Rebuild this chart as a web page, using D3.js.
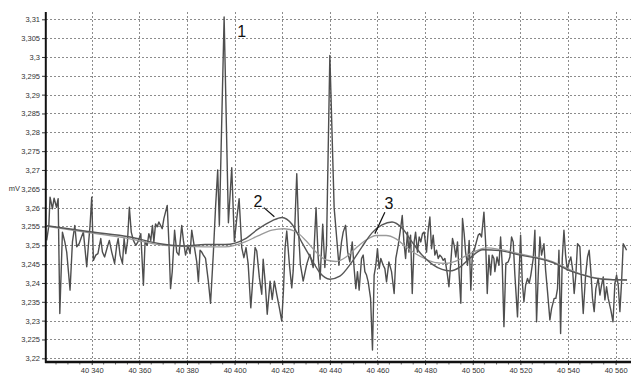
<!DOCTYPE html>
<html>
<head>
<meta charset="utf-8">
<script src="https://cdn.jsdelivr.net/npm/d3@7"></script>
<style>
  html, body { margin: 0; padding: 0; background: #fff; }
  svg { display: block; }
</style>
</head>
<body>
<svg id="chart" width="631" height="374"></svg>
<script>
// Raw signal: sample time and voltage (mV)
const sampleTime = [
  40321.1,40322.0,40322.5,40323.5,40324.2,40325.2,40325.9,40326.6,40327.7,40328.7,
  40329.5,40330.9,40331.9,40332.9,40333.7,40334.7,40335.7,40336.5,40337.1,40337.9,
  40338.6,40339.3,40340.0,40340.7,40341.7,40342.6,40343.8,40344.5,40345.4,40346.6,
  40347.4,40348.4,40349.6,40350.5,40351.1,40351.9,40352.9,40353.6,40354.3,40355.0,
  40355.8,40356.6,40357.5,40358.5,40359.4,40360.6,40361.7,40362.4,40363.3,40364.0,
  40364.8,40365.5,40366.1,40366.8,40367.5,40368.2,40368.9,40369.6,40370.3,40371.7,
  40372.4,40373.1,40373.8,40374.8,40375.7,40376.6,40377.8,40378.5,40379.4,40380.4,
  40381.3,40382.0,40383.1,40384.1,40384.8,40385.5,40386.2,40386.9,40387.8,40389.0,
  40389.9,40391.1,40392.0,40392.9,40393.6,40395.6,40397.4,40398.8,40399.9,40400.9,
  40401.9,40403.0,40403.9,40404.8,40405.7,40406.8,40407.8,40408.6,40409.3,40410.4,
  40411.4,40412.0,40412.8,40413.7,40414.9,40415.8,40416.7,40417.7,40418.8,40419.8,
  40420.5,40421.2,40421.9,40423.0,40424.0,40424.6,40426.1,40427.0,40427.6,40428.8,
  40430.3,40431.6,40433.0,40434.2,40435.1,40435.9,40437.0,40437.9,40438.6,40440.0,
  40441.8,40442.6,40443.8,40444.9,40445.6,40446.6,40447.5,40448.4,40449.4,40450.2,
  40450.9,40451.6,40452.3,40453.3,40454.0,40454.7,40455.4,40456.1,40457.1,40457.9,
  40458.6,40459.3,40460.0,40460.7,40461.4,40462.4,40463.1,40463.8,40464.8,40465.9,
  40467.0,40467.7,40468.7,40469.8,40470.4,40471.1,40471.8,40472.6,40473.2,40473.9,
  40474.6,40475.4,40476.0,40476.8,40477.5,40478.2,40478.9,40479.6,40480.6,40481.3,
  40482.0,40482.7,40483.4,40484.1,40484.8,40485.5,40486.2,40486.9,40487.6,40488.3,
  40489.3,40490.0,40490.8,40491.5,40492.2,40492.9,40493.6,40494.3,40495.0,40495.7,
  40496.4,40497.0,40497.8,40498.5,40499.2,40499.9,40500.6,40502.3,40503.0,40503.7,
  40504.7,40505.4,40506.1,40506.8,40507.5,40508.2,40508.9,40509.3,40510.2,40511.0,
  40511.7,40512.4,40513.1,40513.9,40514.9,40515.6,40516.3,40517.0,40517.7,40518.8,
  40519.5,40520.1,40520.8,40521.5,40522.2,40523.0,40523.7,40524.4,40525.4,40526.1,
  40526.8,40527.5,40528.2,40528.9,40529.9,40530.6,40531.4,40532.4,40533.1,40534.2,
  40534.9,40535.6,40536.2,40536.9,40537.6,40538.3,40539.0,40539.7,40540.5,40541.2,
  40541.9,40542.6,40543.3,40544.0,40545.0,40545.7,40546.4,40547.4,40548.2,40548.9,
  40549.6,40550.3,40551.0,40551.7,40552.7,40553.4,40554.1,40554.8,40555.5,40556.2,
  40556.9,40558.0,40558.9,40559.7,40560.4,40561.1,40561.8,40562.5,40563.2,40563.9,
  40564.6
];
const sampleMv = [
  3.2513,3.2553,3.2628,3.2597,3.2625,3.2601,3.2624,3.2319,3.2535,3.2509,
  3.2482,3.2381,3.2509,3.2553,3.2496,3.2504,3.2522,3.2535,3.2496,3.2443,
  3.2500,3.2553,3.2628,3.2460,3.2474,3.2478,3.2518,3.2482,3.2469,3.2496,
  3.2513,3.2482,3.2452,3.2500,3.2518,3.2474,3.2452,3.2518,3.2478,3.2509,
  3.2601,3.2535,3.2513,3.2500,3.2509,3.2531,3.2394,3.2509,3.2500,3.2531,
  3.2513,3.2553,3.2509,3.2557,3.2549,3.2562,3.2553,3.2544,3.2571,3.2606,
  3.2509,3.2385,3.2429,3.2540,3.2482,3.2474,3.2553,3.2513,3.2474,3.2500,
  3.2478,3.2540,3.2496,3.2456,3.2403,3.2487,3.2482,3.2474,3.2465,3.2403,
  3.2346,3.2482,3.2601,3.2700,3.2553,3.3106,3.2560,3.2706,3.2510,3.2570,
  3.2624,3.2494,3.2467,3.2494,3.2450,3.2334,3.2423,3.2494,3.2485,3.2414,
  3.2370,3.2463,3.2405,3.2317,3.2405,3.2356,3.2405,3.2370,3.2334,3.2299,
  3.2379,3.2494,3.2538,3.2450,3.2387,3.2432,3.2690,3.2520,3.2450,3.2405,
  3.2450,3.2476,3.2441,3.2600,3.2467,3.2410,3.2556,3.2441,3.2500,3.3004,
  3.2600,3.2540,3.2447,3.2509,3.2535,3.2553,3.2482,3.2456,3.2509,3.2438,
  3.2385,3.2430,3.2381,3.2465,3.2474,3.2430,3.2421,3.2403,3.2359,3.2222,
  3.2421,3.2447,3.2491,3.2438,3.2465,3.2447,3.2438,3.2403,3.2456,3.2430,
  3.2372,3.2465,3.2500,3.2549,3.2579,3.2509,3.2465,3.2535,3.2482,3.2527,
  3.2372,3.2509,3.2535,3.2482,3.2522,3.2509,3.2531,3.2535,3.2482,3.2540,
  3.2575,3.2491,3.2527,3.2474,3.2487,3.2465,3.2474,3.2469,3.2460,3.2465,
  3.2425,3.2390,3.2456,3.2518,3.2500,3.2469,3.2509,3.2421,3.2346,3.2571,
  3.2531,3.2482,3.2447,3.2513,3.2381,3.2482,3.2487,3.2527,3.2531,3.2522,
  3.2588,3.2509,3.2372,3.2474,3.2421,3.2474,3.2465,3.2430,3.2469,3.2447,
  3.2522,3.2447,3.2284,3.2452,3.2456,3.2469,3.2522,3.2509,3.2421,3.2310,
  3.2430,3.2527,3.2403,3.2350,3.2394,3.2412,3.2399,3.2421,3.2465,3.2540,
  3.2297,3.2421,3.2522,3.2474,3.2504,3.2434,3.2377,3.2302,3.2332,3.2359,
  3.2359,3.2385,3.2487,3.2266,3.2465,3.2540,3.2474,3.2434,3.2456,3.2469,
  3.2438,3.2372,3.2421,3.2504,3.2496,3.2399,3.2319,3.2421,3.2469,3.2487,
  3.2430,3.2359,3.2324,3.2385,3.2412,3.2368,3.2394,3.2416,3.2355,3.2390,
  3.2359,3.2328,3.2297,3.2399,3.2421,3.2394,3.2324,3.2403,3.2504,3.2496,
  3.2487
];

// Smoothed trend "2" (darker)
const trend2Time = [
  40321.2,40339.3,40356.1,40368.7,40379.2,40387.6,40396.0,40404.4,40409.8,40415.7,
  40419.9,40424.1,40428.3,40432.5,40435.8,40440.0,40444.2,40449.3,40453.5,40457.7,
  40461.9,40466.1,40470.3,40474.5,40478.7,40482.9,40487.1,40490.4,40494.6,40498.8,
  40504.3,40511.4,40519.8,40527.0,40533.7,40540.9,40548.0,40554.7,40564.8
];
const trend2Mv = [
  3.2552,3.2536,3.2522,3.2504,3.2498,3.2502,3.2502,3.2517,3.2543,3.2565,
  3.2574,3.2556,3.2507,3.2461,3.2427,3.2410,3.2418,3.2456,3.2496,3.2533,
  3.2554,3.2562,3.2546,3.2509,3.2474,3.2450,3.2436,3.2432,3.2442,3.2466,
  3.2488,3.2486,3.2474,3.2466,3.2454,3.2432,3.2418,3.2410,3.2408
];

// Smoothed trend "3" (lighter)
const trend3Time = [
  40321.2,40339.3,40356.1,40368.7,40379.2,40387.6,40396.0,40404.4,40409.8,40415.7,
  40420.8,40425.8,40430.0,40434.2,40438.4,40442.6,40446.8,40451.0,40455.2,40459.4,
  40463.6,40467.8,40472.0,40476.2,40480.4,40484.5,40488.7,40492.9,40497.1,40501.4,
  40505.6,40511.4,40519.8,40527.0,40533.7,40540.9,40548.0,40554.7,40564.8
];
const trend3Mv = [
  3.2550,3.2533,3.2517,3.2501,3.2497,3.2496,3.2496,3.2509,3.2525,3.2540,
  3.2544,3.2536,3.2512,3.2482,3.2461,3.2457,3.2469,3.2493,3.2514,3.2526,
  3.2526,3.2517,3.2496,3.2477,3.2463,3.2454,3.2452,3.2458,3.2472,3.2485,
  3.2493,3.2489,3.2477,3.2468,3.2456,3.2435,3.2419,3.2411,3.2408
];

// Axis ticks
const xTickValues = [40340, 40360, 40380, 40400, 40420, 40440, 40460, 40480, 40500, 40520, 40540, 40560];
const yTickValues = [3.22, 3.225, 3.23, 3.235, 3.24, 3.245, 3.25, 3.255, 3.26, 3.265,
                     3.27, 3.275, 3.28, 3.285, 3.29, 3.295, 3.3, 3.305, 3.31];

// Numbered callouts: label position, leader start and leader end, in data units
const calloutText = ["1", "2", "3"];
const calloutAt = [[40403.0, 3.3052], [40409.8, 3.2603], [40464.8, 3.2597]];
const leaderFrom = [null, [40412.3, 3.2600], [40463.1, 3.2588]];
const leaderTo = [null, [40416.7, 3.2576], [40458.9, 3.2531]];

(function draw() {
  const locale = d3.formatLocale({ decimal: ",", thousands: " ", grouping: [3], currency: ["", ""] });
  const fmtY = locale.format(".3~f");
  const fmtX = locale.format(",d");

  const svg = d3.select("#chart");
  const plotLeft = 46, plotRight = 631, plotTop = 12, plotBottom = 362;
  const font = "Liberation Sans, Arial, sans-serif";

  const x = d3.scaleLinear().domain([40320.8, 40565.2]).range([46, 628]);
  const y = d3.scaleLinear().domain([3.22, 3.31]).range([358.3, 19.3]);

  // dotted grid
  const grid = svg.append("g").attr("stroke", "#8c8c8c").attr("stroke-width", 1)
    .attr("stroke-dasharray", "2,2").attr("shape-rendering", "crispEdges");
  grid.selectAll("line.h").data(yTickValues).join("line").attr("class", "h")
    .attr("x1", plotLeft).attr("x2", plotRight)
    .attr("y1", d => Math.round(y(d)) + 0.5).attr("y2", d => Math.round(y(d)) + 0.5);
  grid.selectAll("line.v").data(xTickValues).join("line").attr("class", "v")
    .attr("y1", plotTop).attr("y2", plotBottom)
    .attr("x1", d => Math.round(x(d)) + 0.5).attr("x2", d => Math.round(x(d)) + 0.5);

  // raw signal
  const raw = sampleTime.map((t, i) => [t, sampleMv[i]]);
  const lineRaw = d3.line().x(d => x(d[0])).y(d => y(d[1]));
  svg.append("path").datum(raw).attr("d", lineRaw)
    .attr("fill", "none").attr("stroke", "#4e4e4e").attr("stroke-width", 1.4)
    .attr("stroke-linejoin", "round");

  // smoothed trends
  const lineSmooth = d3.line().x(d => x(d[0])).y(d => y(d[1])).curve(d3.curveMonotoneX);
  svg.append("path").datum(trend3Time.map((t, i) => [t, trend3Mv[i]])).attr("d", lineSmooth)
    .attr("fill", "none").attr("stroke", "#9a9a9a").attr("stroke-width", 1.3);
  svg.append("path").datum(trend2Time.map((t, i) => [t, trend2Mv[i]])).attr("d", lineSmooth)
    .attr("fill", "none").attr("stroke", "#575757").attr("stroke-width", 1.4);

  // y axis
  const yAxis = svg.append("g").attr("transform", `translate(${plotLeft},0)`)
    .call(d3.axisLeft(y).tickValues(yTickValues).tickFormat(fmtY).tickSize(4).tickPadding(2));
  yAxis.select(".domain").remove();
  yAxis.selectAll("text").attr("font-family", font).attr("font-size", 7.5).attr("fill", "#333");
  yAxis.selectAll("line").attr("stroke", "#333");

  // x axis
  const xAxis = svg.append("g").attr("transform", `translate(0,${plotBottom})`)
    .call(d3.axisBottom(x).tickValues(xTickValues).tickFormat(fmtX).tickSize(3).tickPadding(3));
  xAxis.select(".domain").remove();
  xAxis.selectAll("text").attr("font-family", font).attr("font-size", 7.5).attr("fill", "#333");
  xAxis.selectAll("line").attr("stroke", "#333");

  // minor ticks every 5 units
  const minor = d3.range(40325, 40565, 5).filter(v => v % 20 !== 0);
  svg.append("g").selectAll("line").data(minor).join("line")
    .attr("x1", d => x(d)).attr("x2", d => x(d))
    .attr("y1", plotBottom).attr("y2", plotBottom + 2.5)
    .attr("stroke", "#444").attr("stroke-width", 0.8);

  // axis lines
  svg.append("line").attr("x1", plotLeft - 0.2).attr("x2", plotLeft - 0.2)
    .attr("y1", plotTop).attr("y2", plotBottom + 1)
    .attr("stroke", "#111").attr("stroke-width", 2);
  svg.append("line").attr("x1", plotLeft - 1).attr("x2", plotRight)
    .attr("y1", plotBottom).attr("y2", plotBottom)
    .attr("stroke", "#111").attr("stroke-width", 2.4);

  // unit label
  svg.append("text").attr("x", 20).attr("y", y(3.265)).attr("dy", "0.32em")
    .attr("text-anchor", "end").attr("font-family", font)
    .attr("font-size", 7.5).attr("fill", "#333").text("mV");

  // callouts
  const ann = svg.append("g");
  calloutText.forEach((t, i) => {
    ann.append("text").attr("x", x(calloutAt[i][0])).attr("y", y(calloutAt[i][1]))
      .attr("text-anchor", "middle").attr("font-family", font)
      .attr("font-size", 16).attr("fill", "#111").text(t);
    if (leaderFrom[i]) {
      ann.append("line")
        .attr("x1", x(leaderFrom[i][0])).attr("y1", y(leaderFrom[i][1]))
        .attr("x2", x(leaderTo[i][0])).attr("y2", y(leaderTo[i][1]))
        .attr("stroke", "#111").attr("stroke-width", 1.2);
    }
  });
})();
</script>
</body>
</html>
